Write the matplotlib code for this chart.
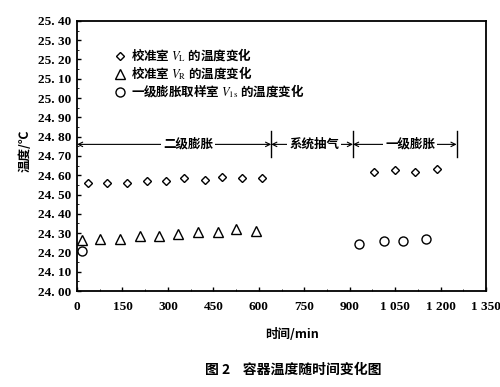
import matplotlib.pyplot as plt
from matplotlib.ticker import MultipleLocator, FuncFormatter
from matplotlib.transforms import ScaledTranslation

plt.rcParams['font.family'] = ['Noto Sans CJK SC', 'DejaVu Sans']
plt.rcParams['mathtext.fontset'] = 'stix'

#校准室 V_L (diamonds)
t_vl = [36, 99, 164, 230, 293, 352, 421, 480, 546, 612, 980, 1049, 1115, 1188]
temp_vl = [24.56, 24.56, 24.56, 24.57, 24.57, 24.585, 24.575, 24.59, 24.585, 24.585,
           24.615, 24.625, 24.615, 24.635]
# 校准室 V_R (triangles)
t_vr = [16, 76, 141, 207, 270, 332, 401, 464, 526, 592]
temp_vr = [24.265, 24.27, 24.27, 24.285, 24.285, 24.295, 24.305, 24.305, 24.32, 24.31]
# 一级膨胀取样室 V_1s (circles)
t_v1 = [16, 931, 1013, 1076, 1151]
temp_v1 = [24.205, 24.245, 24.26, 24.26, 24.27]

# 阶段分界
stage_bounds = [0, 641, 911, 1253]
stage_names = ['二级膨胀', '系统抽气', '一级膨胀']

fig = plt.figure(figsize=(5, 3.87), dpi=100)
ax = fig.add_axes([0.154, 0.248, 0.818, 0.698])

ms = 5.5
ax.plot(t_vl, temp_vl, 'D', ms=ms - 1, mfc='white', mec='black', mew=1,
        label=r'校准室 $V_{\mathrm{L}}$ 的温度变化')
ax.plot(t_vr, temp_vr, '^', ms=ms + 1, mfc='white', mec='black', mew=1,
        label=r'校准室 $V_{\mathrm{R}}$ 的温度变化')
ax.plot(t_v1, temp_v1, 'o', ms=ms + 1, mfc='white', mec='black', mew=1,
        label=r'一级膨胀取样室 $V_{\mathrm{1s}}$ 的温度变化')

ax.set_xlim(0, 1350)
ax.set_ylim(24.0, 25.4)
ax.xaxis.set_major_locator(MultipleLocator(150))
ax.yaxis.set_major_locator(MultipleLocator(0.1))
ax.yaxis.set_minor_locator(MultipleLocator(0.05))
ax.xaxis.set_minor_locator(MultipleLocator(75))

def fmt_x(v, pos):
    s = '%d' % round(v)
    if len(s) > 3:
        s = s[:-3] + ' ' + s[-3:]
    return s

def fmt_y(v, pos):
    return ('%.2f' % v).replace('.', '. ')

ax.xaxis.set_major_formatter(FuncFormatter(fmt_x))
ax.yaxis.set_major_formatter(FuncFormatter(fmt_y))
ax.tick_params(which='both', direction='in', top=False, right=False)
ax.tick_params(which='major', length=3, width=1)
ax.tick_params(axis='x', which='major', pad=7)
ax.tick_params(axis='y', which='major', pad=4)
ax.tick_params(which='minor', length=1.5)
for lab in ax.get_xticklabels() + ax.get_yticklabels():
    lab.set_family('Liberation Serif')
    lab.set_fontweight('bold')
    lab.set_fontsize(9.5)
# 最后一个刻度标签左移, 避免被裁掉
fig.canvas.draw()
xl = ax.get_xticklabels()
xl[-1].set_transform(xl[-1].get_transform() + ScaledTranslation(-0.07, 0, fig.dpi_scale_trans))
for sp in ax.spines.values():
    sp.set_linewidth(1.3)

# 阶段标注
y_ann = 24.76
ap = dict(arrowstyle='<->', color='black', lw=0.8, shrinkA=0, shrinkB=0,
          mutation_scale=8)
for i in range(len(stage_names)):
    ax.annotate('', xy=(stage_bounds[i], y_ann), xytext=(stage_bounds[i + 1], y_ann),
                arrowprops=ap)
for b in stage_bounds[1:]:
    ax.plot([b, b], [24.695, 24.83], color='black', lw=1)
text_x = [367, 783, 1100]
for x, name in zip(text_x, stage_names):
    ax.text(x, y_ann, name, ha='center', va='center', fontsize=9, fontweight='bold',
            zorder=5, bbox=dict(facecolor='white', edgecolor='none', pad=1.5))

leg = ax.legend(loc='upper left', bbox_to_anchor=(0.08, 0.925), frameon=False,
                handlelength=0.8, handletextpad=0.5, labelspacing=0.05,
                borderaxespad=0, prop={'size': 9, 'weight': 'bold'})

fig.text(0.05, 0.61, '温度/℃', rotation=90, ha='center', va='center',
         fontsize=9, fontweight='bold')
fig.text(0.585, 0.135, '时间/min', ha='center', va='center', fontsize=9, fontweight='bold')
fig.text(0.586, 0.044, '图 2    容器温度随时间变化图', ha='center', va='center',
         fontsize=10, fontweight='bold')

fig.savefig('out.png', dpi=100)
